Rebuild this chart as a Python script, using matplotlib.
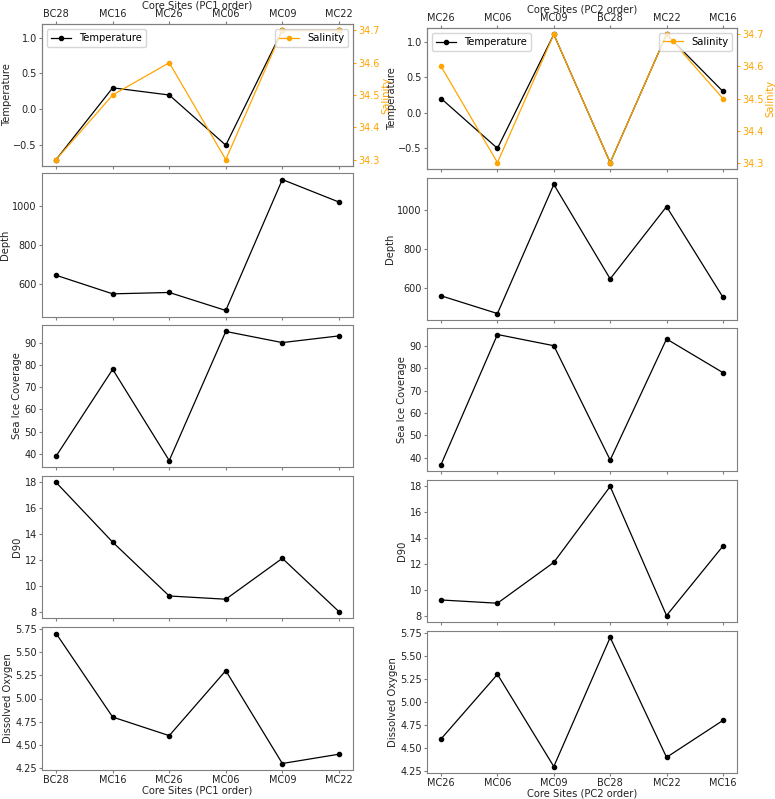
import matplotlib
matplotlib.use("Agg")
import matplotlib.pyplot as plt

sites = ["BC28", "MC16", "MC26", "MC06", "MC09", "MC22"]
temperature = [-0.7, 0.3, 0.2, -0.5, 1.1, 1.1]
salinity = [34.3, 34.5, 34.6, 34.3, 34.7, 34.7]
depth = [645, 550, 557, 465, 1135, 1020]
sea_ice = [39, 78, 37, 95, 90, 93]
d90 = [18.0, 13.4, 9.25, 9.0, 12.15, 8.05]
dissolved_oxygen = [5.7, 4.8, 4.6, 5.3, 4.3, 4.4]

pc1_order = ["BC28", "MC16", "MC26", "MC06", "MC09", "MC22"]
pc2_order = ["MC26", "MC06", "MC09", "BC28", "MC22", "MC16"]

FS = 7.2
TFS = 7.0
SPINE = "#7f7f7f"
ORANGE = "orange"
TXT = "#222222"

fig = plt.figure(figsize=(7.75, 7.99), dpi=100)
W, H = 775, 799


def rect(x0, y0, x1, y1):
    return [x0 / W, 1 - y1 / H, (x1 - x0) / W, (y1 - y0) / H]


col_specs = [
    (pc1_order, "Core Sites (PC1 order)", 42, 353,
     [(24, 166), (173, 317), (325, 467), (476, 618), (627, 770)]),
    (pc2_order, "Core Sites (PC2 order)", 427, 737,
     [(28, 169), (178, 320), (328, 471), (480, 622), (631, 773)]),
]

panels = [("Depth", depth), ("Sea Ice Coverage", sea_ice), ("D90", d90),
          ("Dissolved Oxygen", dissolved_oxygen)]


def style(ax):
    for s in ax.spines.values():
        s.set_color(SPINE)
    ax.tick_params(colors=SPINE, labelcolor=TXT, labelsize=TFS, length=2.2, pad=1.5)


for order, xlabel, x0, x1, rows in col_specs:
    idx = [sites.index(s) for s in order]
    xs = list(range(len(order)))
    # top panel
    ax = fig.add_axes(rect(x0, rows[0][0], x1, rows[0][1]))
    style(ax)
    ax.plot(xs, [temperature[i] for i in idx], "-o", color="black", lw=0.9, ms=3,
            label="Temperature")
    ax.set_ylabel("Temperature", fontsize=FS, color=TXT, labelpad=1)
    ax.set_xticks(xs)
    ax.set_xticklabels(order)
    ax.tick_params(axis="x", top=True, labeltop=True, bottom=True, labelbottom=False)
    ax.xaxis.set_label_position("top")
    ax.set_xlabel(xlabel, fontsize=FS, color=TXT, labelpad=0.5)
    ax.legend(loc="upper left", fontsize=FS)
    ax2 = ax.twinx()
    style(ax2)
    ax2.plot(xs, [salinity[i] for i in idx], "-o", color=ORANGE, lw=0.9, ms=3,
             label="Salinity")
    ax2.set_ylabel("Salinity", fontsize=FS, color=ORANGE, labelpad=1)
    ax2.tick_params(axis="y", colors=ORANGE, labelcolor=ORANGE)
    ax2.set_yticks([34.3, 34.4, 34.5, 34.6, 34.7])
    ax2.legend(loc="upper right", fontsize=FS)

    for k, (name, vals) in enumerate(panels):
        y0, y1 = rows[k + 1]
        ax = fig.add_axes(rect(x0, y0, x1, y1))
        style(ax)
        ax.plot(xs, [vals[i] for i in idx], "-o", color="black", lw=0.9, ms=3)
        ax.set_ylabel(name, fontsize=FS, color=TXT, labelpad=1.5)
        ax.set_xticks(xs)
        if k == len(panels) - 1:
            ax.set_xticklabels(order)
            ax.set_xlabel(xlabel, fontsize=FS, color=TXT, labelpad=0.5)
        else:
            ax.set_xticklabels([])
        if name == "Depth":
            ax.set_yticks([600, 800, 1000])
        if name == "Dissolved Oxygen":
            ax.set_yticks([4.25, 4.5, 4.75, 5.0, 5.25, 5.5, 5.75])

fig.savefig("out.png", dpi=100)
